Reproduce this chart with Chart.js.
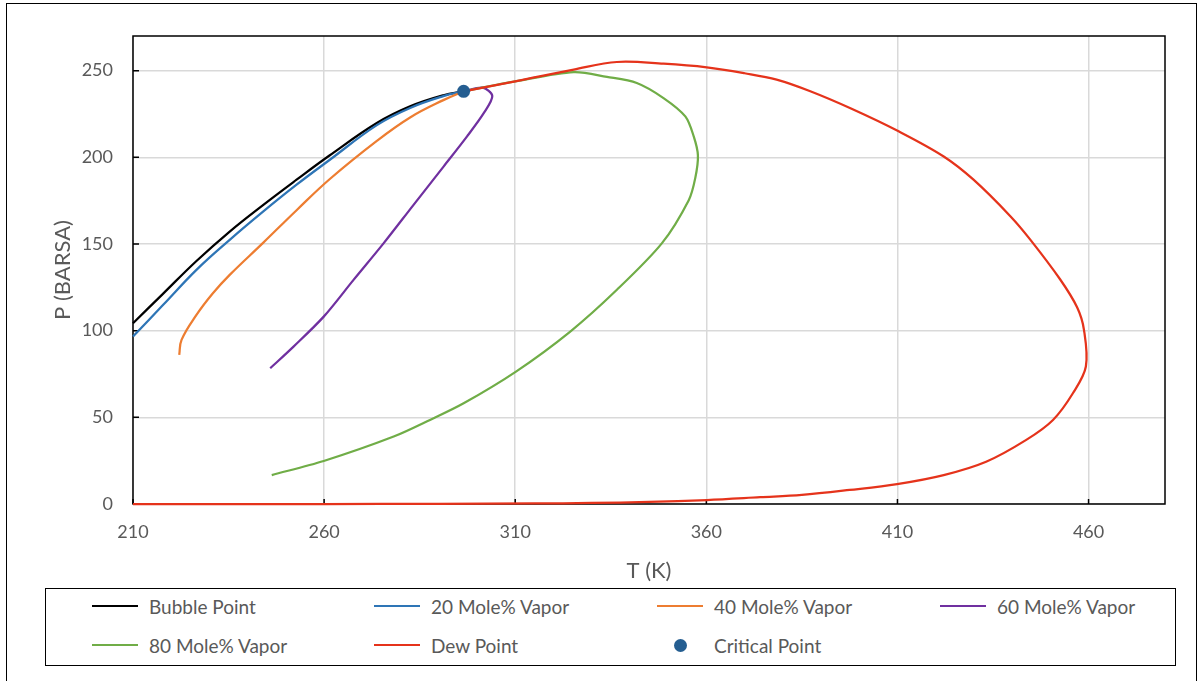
<!DOCTYPE html>
<html>
<head>
<meta charset="utf-8">
<script src="https://cdn.jsdelivr.net/npm/chart.js@4.4.1/dist/chart.umd.min.js"></script>
<style>
  body { margin: 0; background: #fff; }
  #wrap { position: relative; width: 1204px; height: 681px; overflow: hidden; font-family: Lato, "Liberation Sans", sans-serif; }
  #frame { position: absolute; left: 6px; top: 3px; width: 1189px; height: 700px; border: 1.5px solid #000; }
  #legend { position: absolute; left: 45px; top: 588px; width: 1129px; height: 76px; border: 1.5px solid #000; background: #fff; }
  .item { position: absolute; height: 22px; display: flex; align-items: center; color: #595959; font-size: 19px; white-space: nowrap; }
  .swatch { width: 46px; height: 0; border-top: 2.5px solid; margin-right: 11px; }
  .dot { width: 13px; height: 13px; border-radius: 50%; margin: 0 27px 0 17px; }
</style>
</head>
<body>
<div id="wrap">
  <canvas id="chart" width="1204" height="681"></canvas>
  <div id="frame"></div>
  <div id="legend"></div>
</div>
<script>
// series (T in K, P in bara)
const bubbleT = [210, 217.9, 226.6, 235.3, 244.1, 252.8, 261.5, 273.8, 282.5, 291.2, 296.5];
const bubbleP = [104.3, 121.4, 140.2, 157.2, 172.6, 187.1, 201.2, 219.8, 229.4, 235.8, 238.1];

const vap20T = [210, 217.9, 226.6, 235.3, 244.1, 252.8, 261.5, 273.8, 282.5, 291.2, 296.5];
const vap20P = [96.6, 114.9, 135.1, 152.4, 168.8, 184.2, 198.6, 218.6, 228.5, 235.3, 238.1];

const vap40T = [222.1, 222.7, 226.6, 230.9, 235.3, 244.1, 252.8, 261.5, 273.8, 282.5, 291.2, 296.5];
const vap40P = [86, 94.7, 109.1, 121.6, 132.2, 150.8, 169.5, 187.5, 209.5, 223, 233, 238.1];

const vap60T = [245.9, 252, 259.9, 267.7, 275.6, 283.4, 291.3, 297.4, 301.8, 304, 301.5, 296.5];
const vap60P = [78.3, 90.8, 108.1, 129.3, 150.5, 172.6, 194.8, 212.1, 225.6, 235.4, 240.2, 238.1];

const vap80T = [246.3, 259.9, 278.2, 287.7, 296.5, 310.2, 324.4, 336.6, 348.4, 355.4, 357.1, 357.8, 356.7, 354.5, 348.8, 341.8, 334, 325.3, 310, 296.5];
const vap80P = [16.7, 24.8, 38.9, 48.5, 58.1, 76.4, 99.5, 123.6, 150.5, 175.3, 188, 201.1, 212.1, 223.6, 234.2, 242.9, 246.4, 249.2, 243.8, 238.1];

const dewT = [210, 260, 290, 315, 330, 345, 360.1, 374.1, 385, 397.5, 409.9, 422.1, 433.2, 443.7, 450.7, 455.9, 459.3, 458.8, 457, 452.5, 444.8, 439.6, 429.9, 422.1, 410.3, 398, 387.2, 378.4, 370, 360.1, 348.8, 336.6, 325.3, 310, 296.5];
const dewP = [0, 0, 0.1, 0.3, 0.6, 1.2, 2.3, 3.9, 5.2, 8.1, 11.5, 16.7, 24.4, 37, 48.5, 63.9, 79.3, 100.5, 113.5, 129.8, 152.4, 165.9, 187.1, 200.5, 215, 228, 238.1, 244.8, 248.5, 251.9, 254, 255, 250.6, 243.8, 238.1];

const critT = [296.5];
const critP = [238.1];

const xTicks = [210, 260, 310, 360, 410, 460];
const yTicks = [0, 50, 100, 150, 200, 250];

const seriesNames = ['Bubble Point', '20 Mole% Vapor', '40 Mole% Vapor', '60 Mole% Vapor', '80 Mole% Vapor', 'Dew Point', 'Critical Point'];
const seriesColors = ['#000000', '#2e75b6', '#ed7d31', '#7030a0', '#70ad47', '#e5331b', '#255e91'];

const pts = (xs, ys) => xs.map((x, i) => ({ x: x, y: ys[i] }));

function lineSet(i, xs, ys, tension) {
  return {
    label: seriesNames[i],
    data: pts(xs, ys),
    showLine: true,
    borderColor: seriesColors[i],
    backgroundColor: seriesColors[i],
    borderWidth: 2.25,
    pointRadius: 0,
    tension: tension,
    clip: 4,
    order: 6 - i
  };
}

// plot frame + inward tick marks like the original
const framePlugin = {
  id: 'frame',
  beforeDatasetsDraw(chart) {
    const { ctx, chartArea: a, scales } = chart;
    ctx.save();
    ctx.strokeStyle = '#000';
    ctx.lineWidth = 1.5;
    ctx.strokeRect(a.left, a.top, a.right - a.left, a.bottom - a.top);
    ctx.beginPath();
    xTicks.forEach(v => {
      const px = scales.x.getPixelForValue(v);
      ctx.moveTo(px, a.bottom);
      ctx.lineTo(px, a.bottom - 5);
    });
    yTicks.forEach(v => {
      const py = scales.y.getPixelForValue(v);
      ctx.moveTo(a.left, py);
      ctx.lineTo(a.left + 6, py);
    });
    ctx.stroke();
    ctx.restore();
  }
};

const tickFont = { family: 'Lato, "Liberation Sans", sans-serif', size: 18 };
const titleFont = { family: 'Lato, "Liberation Sans", sans-serif', size: 22 };

new Chart(document.getElementById('chart'), {
  type: 'scatter',
  data: {
    datasets: [
      lineSet(0, bubbleT, bubbleP, 0.4),
      lineSet(1, vap20T, vap20P, 0.4),
      lineSet(2, vap40T, vap40P, 0.4),
      lineSet(3, vap60T, vap60P, 0.3),
      lineSet(4, vap80T, vap80P, 0.3),
      lineSet(5, dewT, dewP, 0.35),
      {
        label: seriesNames[6],
        data: pts(critT, critP),
        showLine: false,
        pointRadius: 6.5,
        pointBackgroundColor: seriesColors[6],
        pointBorderWidth: 0,
        order: 0
      }
    ]
  },
  options: {
    responsive: false,
    animation: false,
    layout: { padding: { left: 40, top: 36, right: 39, bottom: 96 } },
    plugins: { legend: { display: false }, tooltip: { enabled: false } },
    scales: {
      x: {
        type: 'linear',
        min: 210,
        max: 480,
        afterBuildTicks: axis => { axis.ticks = xTicks.map(v => ({ value: v })); },
        afterFit: axis => { axis.height = 81; },
        grid: { color: '#d9d9d9', lineWidth: 1.5, drawTicks: false },
        border: { display: false },
        ticks: { color: '#595959', font: tickFont, padding: 17, maxRotation: 0 },
        title: { display: true, text: 'T (K)', color: '#595959', font: titleFont, padding: { top: 0, bottom: 1 } }
      },
      y: {
        type: 'linear',
        min: 0,
        max: 270,
        afterBuildTicks: axis => { axis.ticks = yTicks.map(v => ({ value: v })); },
        afterFit: axis => { axis.width = 93; },
        grid: { color: '#d9d9d9', lineWidth: 1.5, drawTicks: false },
        border: { display: false },
        ticks: { color: '#595959', font: tickFont, padding: 20 },
        title: { display: true, text: 'P (BARSA)', color: '#595959', font: titleFont, padding: { top: 10, bottom: 0 } }
      }
    }
  },
  plugins: [framePlugin]
});

// legend laid out like the Excel one: 4 columns, 2 rows
const legend = document.getElementById('legend');
const colX = [46, 328, 611, 894];
const rowY = [6, 45];
seriesNames.forEach((name, i) => {
  const el = document.createElement('div');
  el.className = 'item';
  el.style.left = colX[i % 4] + 'px';
  el.style.top = rowY[Math.floor(i / 4)] + 'px';
  const mark = document.createElement('span');
  if (i === 6) {
    mark.className = 'dot';
    mark.style.background = seriesColors[i];
  } else {
    mark.className = 'swatch';
    mark.style.borderColor = seriesColors[i];
  }
  el.appendChild(mark);
  el.appendChild(document.createTextNode(name));
  legend.appendChild(el);
});
</script>
</body>
</html>
